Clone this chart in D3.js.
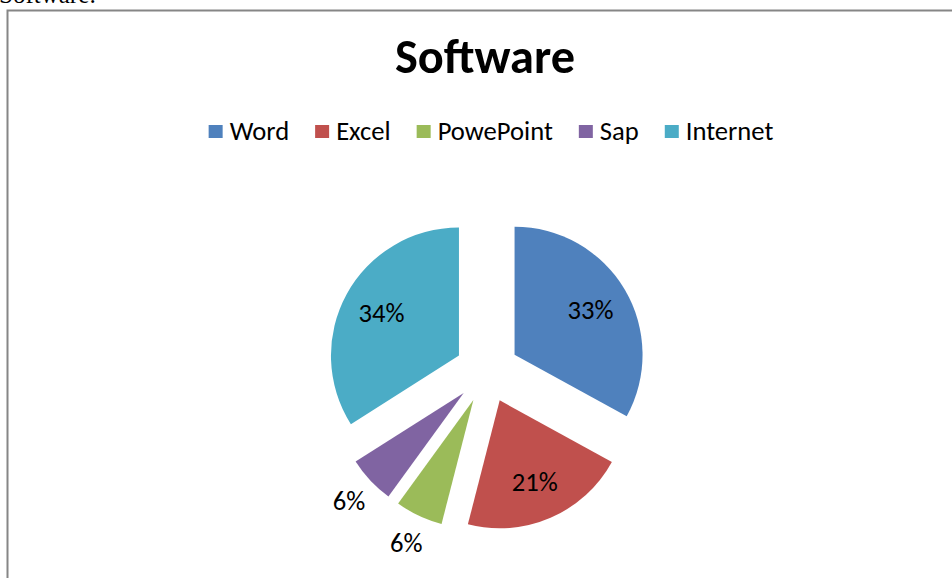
<!DOCTYPE html>
<html>
<head>
<meta charset="utf-8">
<script src="https://cdn.jsdelivr.net/npm/d3@7"></script>
<style>
  html, body { margin: 0; padding: 0; background: #fff; overflow: hidden; }
  svg { display: block; }
</style>
</head>
<body>
<div id="chart"></div>
<script>
// Data
const categories = ['Word', 'Excel', 'PowePoint', 'Sap', 'Internet'];
const values = [33, 21, 6, 6, 34];
const percentLabels = ['33%', '21%', '6%', '6%', '34%'];
const colors = ['#4F81BD', '#C0504D', '#9BBB59', '#8064A2', '#4BACC6'];
const chartTitle = 'Software';

const width = 952, height = 578;
const fontFamily = 'Calibri, Carlito, Lato, "Open Sans", sans-serif';

const svg = d3.select('#chart')
    .append('svg')
    .attr('width', width)
    .attr('height', height);

// caption of the document above the chart box (cut off at the top)
svg.append('text')
    .attr('x', -1)
    .attr('y', 3)
    .attr('font-family', '"Liberation Serif", "Times New Roman", serif')
    .attr('font-size', 25)
    .attr('fill', '#000')
    .text(chartTitle + ':');

// chart border
svg.append('rect')
    .attr('x', 7.5)
    .attr('y', 10.5)
    .attr('width', width + 20)
    .attr('height', height + 20)
    .attr('fill', '#fff')
    .attr('stroke', '#868686')
    .attr('stroke-width', 2);

// scale a text's font-size so that it fills a given width
function fitText(sel, targetWidth) {
    const base = +sel.attr('font-size');
    const w = sel.node().getComputedTextLength();
    sel.attr('font-size', base * targetWidth / w);
}

// title
const title = svg.append('text')
    .attr('x', 485)
    .attr('y', 73)
    .attr('text-anchor', 'middle')
    .attr('font-family', fontFamily)
    .attr('font-weight', 'bold')
    .attr('font-size', 36)
    .attr('fill', '#000')
    .text(chartTitle);
fitText(title, 180);

// legend
const legend = svg.append('g');
const items = legend.selectAll('g')
    .data(categories)
    .enter()
    .append('g');

items.append('rect')
    .attr('width', 14)
    .attr('height', 13)
    .attr('y', 125)
    .attr('fill', (d, i) => colors[i]);

const legendTexts = items.append('text')
    .attr('y', 140)
    .attr('font-family', fontFamily)
    .attr('font-size', 22)
    .attr('fill', '#000')
    .text(d => d);

// fit legend font to the reference text widths
let totalText = 0;
legendTexts.each(function() { totalText += this.getComputedTextLength(); });
legendTexts.attr('font-size', 22 * 356 / totalText);

let cursor = 0;
const positions = [];
legendTexts.each(function() {
    positions.push(cursor);
    cursor += 14 + 7 + this.getComputedTextLength() + 26;
});
const legendWidth = cursor - 26;
const legendStart = 491 - legendWidth / 2;
items.each(function(d, i) {
    const g = d3.select(this);
    g.select('rect').attr('x', legendStart + positions[i]);
    g.select('text').attr('x', legendStart + positions[i] + 21);
});

// pie
const cx = 487, cy = 371;
const radius = 128;
const explode = 32;

const pie = d3.pie().sort(null).value(d => d);
const arcs = pie(values);
const arc = d3.arc().innerRadius(0).outerRadius(radius);

const pieG = svg.append('g')
    .attr('transform', `translate(${cx},${cy})`);

const slices = pieG.selectAll('g.slice')
    .data(arcs)
    .enter()
    .append('g')
    .attr('class', 'slice')
    .attr('transform', d => {
        const mid = (d.startAngle + d.endAngle) / 2;
        return `translate(${explode * Math.sin(mid)},${-explode * Math.cos(mid)})`;
    });

slices.append('path')
    .attr('d', arc)
    .attr('fill', (d, i) => colors[i]);

// data labels: inside for big slices, outside for small ones
slices.append('text')
    .attr('transform', d => {
        const mid = (d.startAngle + d.endAngle) / 2;
        const share = (d.endAngle - d.startAngle) / (2 * Math.PI);
        const r = share > 0.1 ? radius * 0.69 : radius * 1.23;
        return `translate(${r * Math.sin(mid)},${-r * Math.cos(mid)})`;
    })
    .attr('text-anchor', 'middle')
    .attr('dy', '0.35em')
    .attr('font-family', fontFamily)
    .attr('font-size', legendTexts.attr('font-size'))
    .attr('fill', '#000')
    .text((d, i) => percentLabels[i]);
</script>
</body>
</html>
